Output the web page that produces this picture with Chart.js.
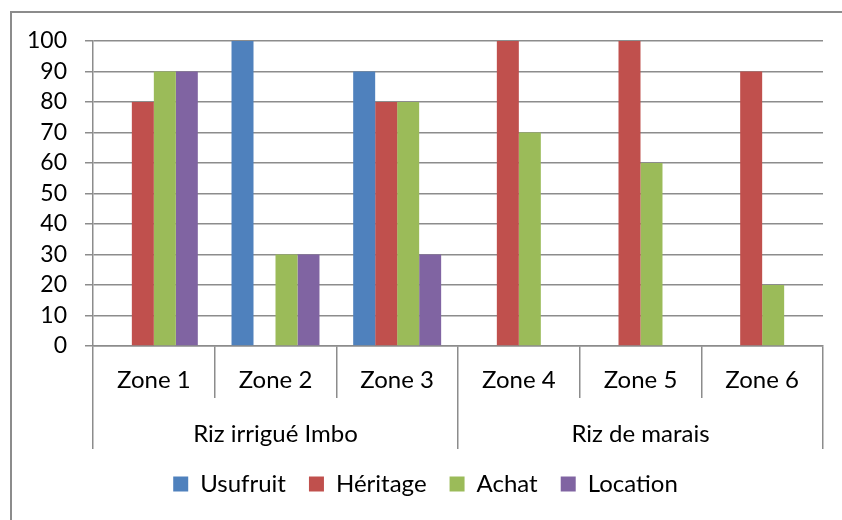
<!DOCTYPE html>
<html>
<head>
<meta charset="utf-8">
<script src="https://cdn.jsdelivr.net/npm/chart.js@4"></script>
<style>
  html, body { margin: 0; padding: 0; background: #fff; overflow: hidden; }
  #frame { position: absolute; left: 10px; top: 11px; width: 900px; height: 600px;
           border-left: 2px solid #8c8c8c; border-top: 2px solid #8c8c8c; box-sizing: border-box; }
  #c { position: absolute; left: 0; top: 0; }
</style>
</head>
<body>
<div id="frame"></div>
<canvas id="c" width="842" height="520"></canvas>
<script>
const zones = ['Zone 1', 'Zone 2', 'Zone 3', 'Zone 4', 'Zone 5', 'Zone 6'];
const groups = ['Riz irrigué Imbo', 'Riz de marais'];
const yTicks = [0, 10, 20, 30, 40, 50, 60, 70, 80, 90, 100];
const usufruit = [0, 100, 90, 0, 0, 0];
const heritage = [80, 0, 80, 100, 100, 90];
const achat    = [90, 30, 80, 70, 60, 20];
const location_ = [90, 30, 30, 0, 0, 0];
const seriesNames = ['Usufruit', 'Héritage', 'Achat', 'Location'];
const seriesColors = ['#4F81BD', '#C0504D', '#9BBB59', '#8064A2'];

const FONT_Y = { family: 'Lato', size: 23, lineHeight: 1 };
const FONT = { family: 'Lato', size: 24 };
const GRID = '#8c8c8c';

new Chart(document.getElementById('c'), {
  type: 'bar',
  data: {
    labels: zones,
    datasets: [usufruit, heritage, achat, location_].map((d, i) => ({
      label: seriesNames[i],
      data: d,
      backgroundColor: seriesColors[i],
      borderWidth: 0,
      categoryPercentage: 0.723,
      barPercentage: 1.0,
      xAxisID: 'x'
    }))
  },
  options: {
    responsive: false,
    animation: false,
    layout: { padding: { left: 28, top: 41, right: 19, bottom: 14 } },
    plugins: {
      tooltip: { enabled: false },
      legend: {
        position: 'bottom',
        labels: { font: FONT, color: '#000', boxWidth: 15, boxHeight: 15, padding: 23 }
      }
    },
    scales: {
      x: {
        type: 'category',
        position: 'bottom',
        weight: 0,
        offset: true,
        grid: { offset: true, drawOnChartArea: false, tickLength: 52, color: GRID, lineWidth: 1.5 },
        border: { display: true, color: GRID, width: 1.5 },
        ticks: { font: FONT, color: '#000', padding: -32, maxRotation: 0, autoSkip: false },
        afterFit: s => { s.height = 52; }
      },
      x2: {
        type: 'category',
        axis: 'x',
        position: 'bottom',
        weight: 1,
        labels: groups,
        offset: true,
        grid: { offset: true, drawOnChartArea: false, tickLength: 51, color: GRID, lineWidth: 1.5 },
        border: { display: false },
        ticks: { font: FONT, color: '#000', padding: -29, maxRotation: 0, autoSkip: false },
        afterFit: s => { s.height = 51; }
      },
      y: {
        min: yTicks[0],
        max: yTicks[yTicks.length - 1],
        afterBuildTicks: s => { s.ticks = yTicks.map(v => ({ value: v })); },
        ticks: { font: FONT_Y, color: '#000', padding: 18, autoSkip: false },
        grid: { color: GRID, lineWidth: 1.5, tickLength: 8 },
        border: { display: true, color: GRID, width: 1.5 },
        afterFit: s => { s.width = 65; }
      }
    }
  }
});
</script>
</body>
</html>
